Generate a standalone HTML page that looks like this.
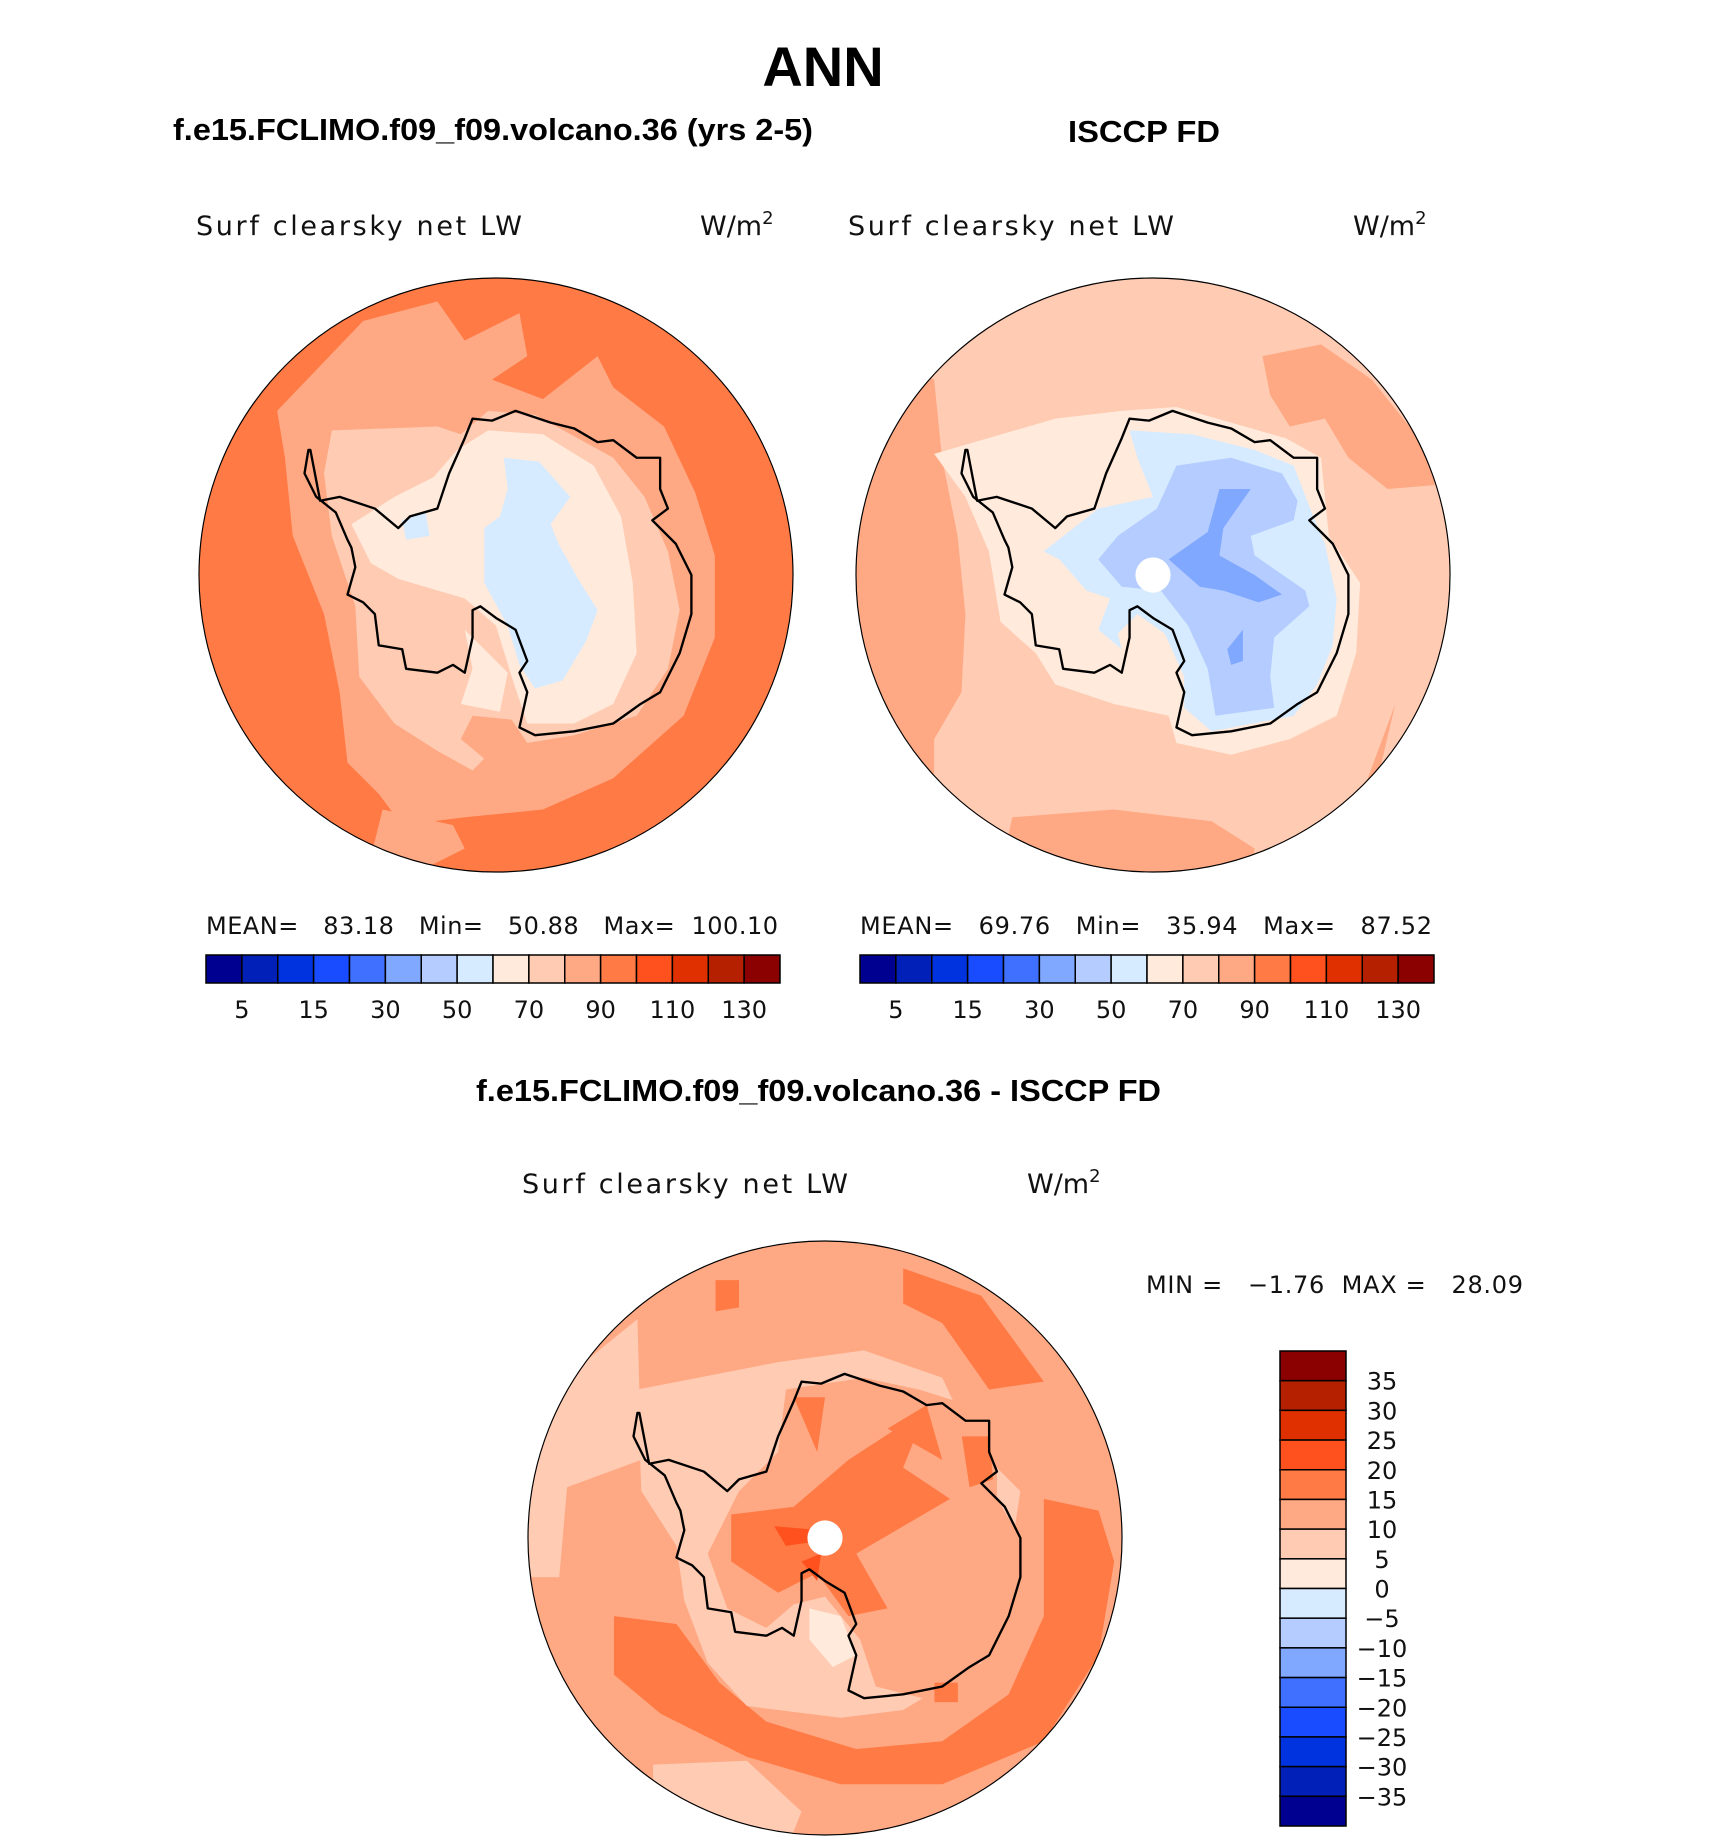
<!DOCTYPE html>
<html><head><meta charset="utf-8"><style>
body{margin:0;background:#fff}
svg{display:block}
.t{font-family:"Liberation Sans",sans-serif}
.thin{font-family:"DejaVu Sans","Liberation Sans",sans-serif;font-weight:normal;fill:#111}
</style></head><body>
<svg id="fig" width="1710" height="1840" viewBox="0 0 1710 1840" xmlns="http://www.w3.org/2000/svg">
<defs><clipPath id="cc"><circle cx="0" cy="0" r="760"/></clipPath></defs>
<text class="t" x="823" y="86" font-size="56" font-weight="bold" text-anchor="middle">ANN</text>
<text class="t" x="173" y="140" font-size="31" font-weight="bold" textLength="640" lengthAdjust="spacingAndGlyphs">f.e15.FCLIMO.f09_f09.volcano.36 (yrs 2-5)</text>
<text class="t" x="1068" y="142" font-size="31" font-weight="bold" textLength="152" lengthAdjust="spacingAndGlyphs">ISCCP FD</text>
<text class="t" x="476" y="1101" font-size="31" font-weight="bold" textLength="685" lengthAdjust="spacingAndGlyphs">f.e15.FCLIMO.f09_f09.volcano.36 - ISCCP FD</text>

<g class="thin" font-size="27">
<text x="196" y="235" textLength="326">Surf clearsky net LW</text>
<text x="700" y="235">W/m<tspan dy="-11" font-size="18">2</tspan></text>
<text x="848" y="235" textLength="326">Surf clearsky net LW</text>
<text x="1353" y="235">W/m<tspan dy="-11" font-size="18">2</tspan></text>
<text x="522" y="1193" textLength="326">Surf clearsky net LW</text>
<text x="1027" y="1193">W/m<tspan dy="-11" font-size="18">2</tspan></text>
</g>
<g class="thin" font-size="24">
<text x="206" y="934" textLength="572" xml:space="preserve">MEAN=   83.18   Min=   50.88   Max=  100.10</text>
<text x="860" y="934" textLength="572" xml:space="preserve">MEAN=   69.76   Min=   35.94   Max=   87.52</text>
<text x="1146" y="1293" textLength="377" xml:space="preserve">MIN =   −1.76  MAX =   28.09</text>
</g>

<!-- LEFT MAP -->
<g transform="translate(496,575) scale(0.3908)">
 <g clip-path="url(#cc)">
  <rect x="-800" y="-800" width="1600" height="1600" fill="#ff7a45"/>
  <path d="M-560,-420 L-340,-650 L-150,-700 L-80,-600 L60,-670 L80,-560 L-10,-500 L120,-450 L260,-560 L300,-480 L430,-380 L510,-210 L560,-50 L560,160 L480,360 L300,520 L120,600 L-80,620 L-240,640 L-300,560 L-380,480 L-400,300 L-440,100 L-520,-100 L-540,-300 Z" fill="#ffa984"/>
  <path d="M-290,600 L-110,640 L-80,700 L-200,760 L-330,760 Z" fill="#ffa984"/>
  <path d="M330,680 L520,640 L600,560 L700,400 L760,300 L760,760 L300,760 Z" fill="#ffa984"/>
  <path d="M-420,-370 L-150,-380 L-90,-360 L-20,-420 L100,-410 L300,-300 L380,-200 L440,-60 L470,90 L440,240 L360,360 L200,410 L80,430 L40,370 L-60,360 L-90,420 L-30,470 L-60,500 L-150,450 L-260,380 L-350,260 L-360,80 L-420,-100 L-440,-260 Z" fill="#ffcbb3"/>
  <path d="M-370,-130 L-260,-200 L-160,-250 L-100,-320 L-20,-370 L120,-360 L250,-280 L320,-150 L350,20 L360,200 L300,330 L200,380 L80,380 L40,260 L0,130 L-80,60 L-250,10 L-320,-30 Z" fill="#ffeadb"/>
  <path d="M-80,140 L-60,240 L-90,330 L10,350 L30,250 Z" fill="#ffeadb"/>
  <path d="M20,-300 L110,-290 L190,-200 L140,-130 L160,-80 L210,10 L260,90 L230,170 L170,270 L100,290 L60,230 L30,130 L-30,20 L-30,-120 L10,-150 L30,-220 Z" fill="#d6ebff"/>
  <path d="M-240,-140 L-180,-160 L-170,-100 L-230,-90 Z" fill="#d6ebff"/>
 </g>
 <circle cx="0" cy="0" r="760" fill="none" stroke="#000" stroke-width="3"/>
 <path class="coast" fill="none" stroke="#000" stroke-width="6" stroke-linejoin="round"/>
</g>

<!-- RIGHT MAP -->
<g transform="translate(1153,575) scale(0.3908)">
 <g clip-path="url(#cc)">
  <rect x="-800" y="-800" width="1600" height="1600" fill="#ffcbb3"/>
  <path d="M-800,-600 L-560,-500 L-540,-300 L-500,-100 L-480,100 L-490,300 L-560,420 L-560,600 L-800,600 Z" fill="#ffa984"/>
  <path d="M280,-560 L430,-590 L560,-500 L720,-300 L720,-230 L600,-220 L500,-300 L440,-400 L350,-380 L300,-460 Z" fill="#ffa984"/>
  <path d="M-360,620 L-100,600 L150,630 L260,700 L250,800 L-400,800 Z" fill="#ffa984"/>
  <path d="M520,600 L620,330 L580,500 Z" fill="#ffa984"/>
  <path d="M-560,-310 L-250,-400 L-80,-420 L60,-430 L200,-390 L340,-350 L430,-300 L450,-100 L530,20 L520,200 L470,360 L350,420 L200,460 L60,430 L40,360 L-100,330 L-250,280 L-300,200 L-390,120 L-420,-60 L-480,-200 Z" fill="#ffeadb"/>
  <path d="M-60,-370 L100,-360 L260,-320 L360,-280 L410,-150 L440,-80 L470,60 L460,180 L420,280 L360,360 L150,400 L80,340 L80,260 L30,150 L-40,100 L-90,150 L-80,190 L-140,140 L-110,60 L-170,40 L-240,-40 L-280,-60 L-140,-170 L0,-200 L-40,-300 Z" fill="#d6ebff"/>
  <path d="M60,-280 L200,-300 L330,-260 L370,-190 L360,-140 L250,-100 L260,-50 L390,40 L400,80 L310,160 L300,260 L310,340 L160,360 L140,240 L90,130 L20,40 L-80,30 L-140,-40 L-90,-100 L10,-170 Z" fill="#b4ccff"/>
  <path d="M170,-220 L250,-220 L180,-120 L170,-50 L260,0 L330,50 L270,70 L180,40 L120,30 L40,-40 L140,-110 Z" fill="#80a8ff"/>
  <path d="M190,190 L230,140 L230,220 L200,230 Z" fill="#80a8ff"/>
  <circle cx="0" cy="0" r="45" fill="#fff"/>
 </g>
 <circle cx="0" cy="0" r="760" fill="none" stroke="#000" stroke-width="3"/>
 <path class="coast" fill="none" stroke="#000" stroke-width="6" stroke-linejoin="round"/>
</g>

<!-- DIFF MAP -->
<g transform="translate(825,1538) scale(0.3908)">
 <g clip-path="url(#cc)">
  <rect x="-800" y="-800" width="1600" height="1600" fill="#ffa984"/>
  <path d="M-800,-300 L-480,-560 L-470,-200 L-660,-130 L-680,100 L-720,100 L-800,100 Z" fill="#ffcbb3"/>
  <path d="M200,-690 L400,-620 L560,-400 L420,-380 L300,-550 L200,-600 Z" fill="#ff7a45"/>
  <path d="M-280,-660 L-220,-660 L-220,-590 L-280,-580 Z" fill="#ff7a45"/>
  <path d="M-540,200 L-380,220 L-270,370 L-150,470 L80,540 L300,520 L470,400 L560,200 L560,-100 L700,-70 L740,60 L700,300 L560,520 L300,630 L40,630 L-200,560 L-420,450 L-540,350 Z" fill="#ff7a45"/>
  <path d="M-440,580 L-200,570 L-60,700 L-100,800 L-440,800 Z" fill="#ffcbb3"/>
  <path d="M-480,-380 L-120,-450 L100,-480 L300,-410 L380,-240 L500,-120 L460,140 L400,320 L200,440 L40,460 L-200,430 L-300,320 L-360,160 L-380,20 L-470,-120 Z" fill="#ffcbb3"/>
  <path d="M-100,-380 L100,-410 L240,-380 L400,-330 L440,-200 L440,-100 L500,0 L490,130 L460,250 L350,370 L250,410 L130,380 L90,260 L0,150 L-80,170 L-150,230 L-250,180 L-300,40 L-220,-120 L-120,-220 Z" fill="#ffa984"/>
  <path d="M-240,-60 L-80,-80 L60,-200 L260,-330 L200,-180 L320,-100 L80,40 L160,180 L60,200 L-20,90 L-120,140 L-240,60 Z" fill="#ff7a45"/>
  <path d="M-80,-360 L0,-360 L-20,-220 Z M160,-280 L260,-340 L300,-200 Z M350,-260 L420,-260 L430,-150 L370,-130 Z M280,370 L340,370 L340,420 L280,420 Z" fill="#ff7a45"/>
  <path d="M-130,-30 L-10,-20 L-30,10 L-100,20 Z M-60,60 L-10,40 L-20,110 Z" fill="#ff511e"/>
  <path d="M-40,180 L40,200 L80,300 L20,330 L-40,260 Z" fill="#ffeadb"/>
  <circle cx="0" cy="0" r="45" fill="#fff"/>
 </g>
 <circle cx="0" cy="0" r="760" fill="none" stroke="#000" stroke-width="3"/>
 <path class="coast" fill="none" stroke="#000" stroke-width="6" stroke-linejoin="round"/>
</g>

<g id="cbars"></g>
</svg>
<script>
// Colorbar data
const absLevels = [5,10,15,20,30,40,50,60,70,80,90,100,110,120,130];
const absTickLabels = ["5","15","30","50","70","90","110","130"];
const diffLevels = [-35,-30,-25,-20,-15,-10,-5,0,5,10,15,20,25,30,35];
const diffTickLabels = ["−35","−30","−25","−20","−15","−10","−5","0","5","10","15","20","25","30","35"];
const palette = ["#000090","#0020b8","#0033e0","#1a4cff","#4070ff","#80a8ff","#b4ccff","#d6ebff","#ffeadb","#ffcbb3","#ffa984","#ff7a45","#ff511e","#e03000","#b52000","#8b0000"];
// Coastline outline (map units, radius 760)
const coastX = [-475,-450,-400,-310,-250,-220,-150,-120,-80,-60,-10,50,140,200,260,300,360,420,420,440,400,460,500,500,470,420,370,300,200,100,60,80,60,80,50,0,-40,-60,-60,-80,-110,-150,-230,-240,-300,-310,-340,-380,-360,-370,-380,-410,-460,-490,-480];
const coastY = [-320,-190,-200,-170,-120,-150,-170,-260,-350,-400,-395,-420,-390,-375,-340,-345,-300,-300,-220,-170,-140,-80,0,100,200,300,330,380,400,410,390,300,250,220,140,110,80,90,160,250,230,250,240,190,180,100,70,50,-20,-70,-90,-160,-200,-260,-320];

const NS="http://www.w3.org/2000/svg";
const fig=document.getElementById('cbars');
let d="";
coastX.forEach((x,i)=>{d+=(i?"L":"M")+x+","+coastY[i];});
d+="Z";
document.querySelectorAll('.coast').forEach(p=>{p.setAttribute('d',d);});

function hbar(x0,y0,w,h,prefix){
  const g=document.createElementNS(NS,'g');
  
  
  const n=absLevels.length+1, bw=w/n;
  for(let i=0;i<n;i++){
    const r=document.createElementNS(NS,'rect');
    r.setAttribute('x',x0+i*bw);r.setAttribute('y',y0);r.setAttribute('width',bw);r.setAttribute('height',h);
    r.setAttribute('fill',palette[i]);r.setAttribute('stroke','#000');r.setAttribute('stroke-width','1.5');
    
    
    g.appendChild(r);
  }
  absTickLabels.forEach((lab)=>{
    const idx=absLevels.indexOf(Number(lab));
    const t=document.createElementNS(NS,'text');
    t.setAttribute('x',x0+(idx+1)*bw);t.setAttribute('y',y0+h+35);
    t.setAttribute('text-anchor','middle');t.setAttribute('class','thin');t.setAttribute('font-size','24');
    t.textContent=lab;
    
    
    g.appendChild(t);
  });
  fig.appendChild(g);
}
hbar(206,955,574,28,'left');
hbar(860,955,574,28,'right');

(function(){
  const x0=1280,y0=1351,w=66,h=475;
  const g=document.createElementNS(NS,'g');
  
  
  const n=diffLevels.length+1, bh=h/n;
  for(let i=0;i<n;i++){
    const r=document.createElementNS(NS,'rect');
    r.setAttribute('x',x0);r.setAttribute('y',y0+i*bh);r.setAttribute('width',w);r.setAttribute('height',bh);
    r.setAttribute('fill',palette[n-1-i]);r.setAttribute('stroke','#000');r.setAttribute('stroke-width','1.5');
    
    
    g.appendChild(r);
  }
  diffTickLabels.forEach((lab,k)=>{
    const i=n-1-k;
    const t=document.createElementNS(NS,'text');
    t.setAttribute('x',x0+w+36);t.setAttribute('y',y0+i*bh+9);
    t.setAttribute('text-anchor','middle');t.setAttribute('class','thin');t.setAttribute('font-size','24');
    t.textContent=lab;
    
    
    g.appendChild(t);
  });
  fig.appendChild(g);
})();
</script>
</body></html>
